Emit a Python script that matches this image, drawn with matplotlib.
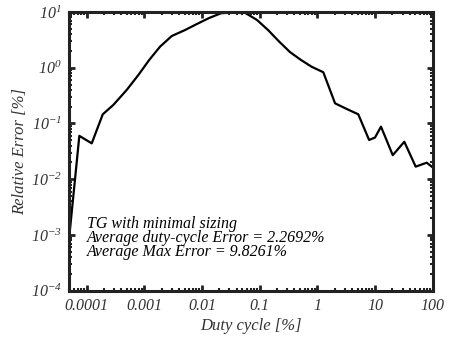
import matplotlib
matplotlib.use("Agg")
import matplotlib.pyplot as plt
from matplotlib.ticker import FixedLocator, FixedFormatter, LogLocator, NullFormatter

plt.rcParams['font.family'] = ['Liberation Serif', 'DejaVu Serif']
plt.rcParams['font.style'] = 'italic'
plt.rcParams['mathtext.fontset'] = 'custom'
plt.rcParams['mathtext.rm'] = 'Liberation Serif:italic'
plt.rcParams['mathtext.it'] = 'Liberation Serif:italic'

duty = [5.1e-5, 7.5e-5, 1.23e-4, 1.91e-4, 2.91e-4, 4.97e-4, 7.9e-4, 1.22e-3,
        1.88e-3, 3.0e-3, 5.1e-3, 8.2e-3, 0.0133, 0.0214, 0.0346, 0.0558,
        0.090, 0.140, 0.217, 0.336, 0.52, 0.80, 1.27, 2.03, 3.24, 5.13,
        7.9, 10.0, 12.7, 20.3, 32.2, 50.7, 78.7, 100.0]
err = [1.1e-3, 0.060, 0.044, 0.146, 0.215, 0.40, 0.74, 1.38,
       2.39, 3.71, 4.75, 6.1, 7.8, 9.5, 9.83, 9.7,
       7.2, 4.75, 2.96, 1.91, 1.38, 1.04, 0.83, 0.23, 0.182, 0.146,
       0.0506, 0.056, 0.0877, 0.027, 0.047, 0.0168, 0.0198, 0.0163]

xticks = [1e-4, 1e-3, 1e-2, 1e-1, 1, 10, 100]
xticklabels = ['0.0001', '0.001', '0.01', '0.1', '1', '10', '100']
yticks = [1e-4, 1e-3, 1e-2, 1e-1, 1, 10]
yticklabels = [r'$10^{-4}$', r'$10^{-3}$', r'$10^{-2}$', r'$10^{-1}$', r'$10^{0}$', r'$10^{1}$']

annot = ["TG with minimal sizing",
         "Average duty-cycle Error = 2.2692%",
         "Average Max Error = 9.8261%"]

fig = plt.figure(figsize=(4.49, 3.43), dpi=100)
ax = fig.add_axes([0.1526, 0.1525, 0.9637 - 0.1526, 0.965 - 0.1525])
ax.plot(duty, err, color='black', lw=1.6)
ax.set_xscale('log')
ax.set_yscale('log')
ax.set_xlim(4.87e-5, 100)
ax.set_ylim(1e-4, 10)

ax.xaxis.set_major_locator(FixedLocator(xticks))
ax.xaxis.set_major_formatter(FixedFormatter(xticklabels))
ax.xaxis.set_minor_locator(LogLocator(base=10, subs=range(2, 10), numticks=20))
ax.xaxis.set_minor_formatter(NullFormatter())
ax.yaxis.set_major_locator(FixedLocator(yticks))
ax.yaxis.set_major_formatter(FixedFormatter(yticklabels))
ax.yaxis.set_minor_locator(LogLocator(base=10, subs=range(2, 10), numticks=20))
ax.yaxis.set_minor_formatter(NullFormatter())

ax.tick_params(which='both', direction='in', top=True, right=True, color='#222222')
ax.tick_params(which='major', length=4, width=2, labelsize=11.5, pad=5)
ax.tick_params(which='minor', length=2.5, width=1.5)
for s in ax.spines.values():
    s.set_linewidth(2.2)
    s.set_color('#222222')
for lab in ax.get_xticklabels() + ax.get_yticklabels():
    lab.set_color('#333333')

ax.set_xlabel('Duty cycle [%]', fontsize=12, color='#333333', labelpad=3)
ax.set_ylabel('Relative Error [%]', fontsize=12, color='#333333', labelpad=2)

ax.text(0.05, 0.268, "\n".join(annot), transform=ax.transAxes, fontsize=11.5,
        va='top', ha='left', linespacing=0.85, color='black')

fig.savefig('out.png', dpi=100)
